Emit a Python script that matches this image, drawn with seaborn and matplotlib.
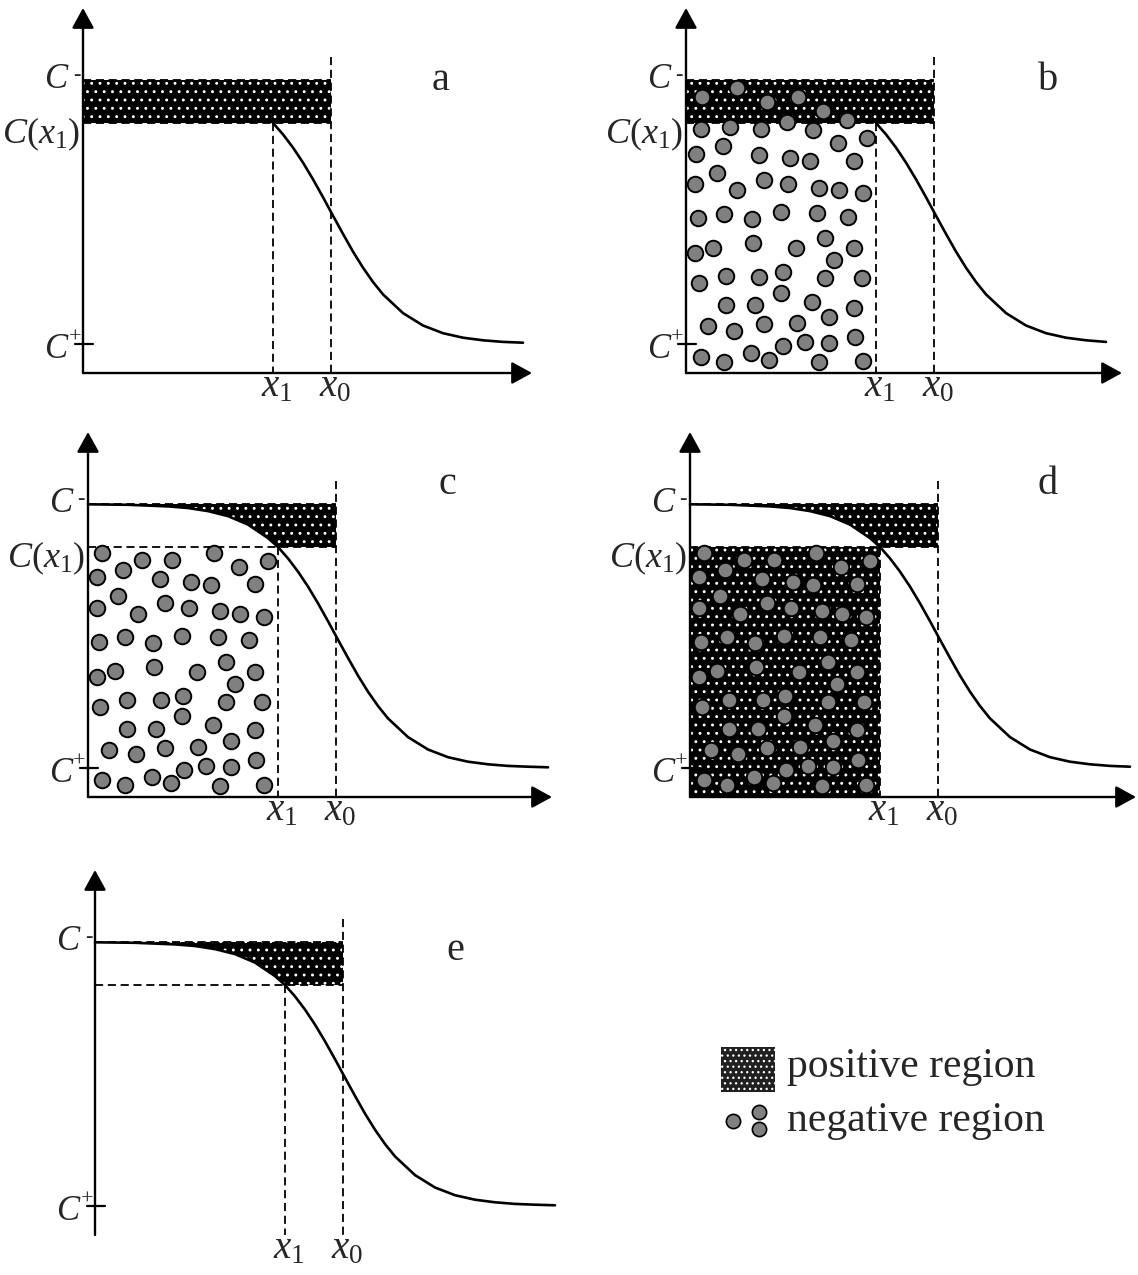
import numpy as np
import pandas as pd
import matplotlib
matplotlib.use("Agg")
import matplotlib.pyplot as plt
import seaborn as sns

sns.set_style("white")
plt.rcParams.update({
    "font.family": ["Liberation Serif", "DejaVu Serif"],
    "mathtext.fontset": "custom",
    "mathtext.rm": "Liberation Serif",
    "mathtext.it": "Liberation Serif:italic",
    "mathtext.bf": "Liberation Serif:bold",
    "hatch.linewidth": 0.9,
})

# ---- schematic levels (arbitrary units) ----
C_PLUS = 0
C_MINUS = 264
C_X1 = 221
X1 = 190
X0 = 248
AXIS_LEVEL = -29
AXIS_TOP = 336
X0_LINE_TOP = 287

# concentration profile C(x)
curve_x = [0, 40, 80, 100, 120, 140, 160, 180, 190, 200, 210, 220, 230, 240,
           250, 260, 270, 280, 290, 300, 320, 340, 360, 380, 400, 420, 440, 460]
curve_y = [263.7, 263.2, 261.6, 260.0, 256.9, 251.9, 243.4, 229.9, 221.0, 209.6,
           196.4, 181.4, 164.7, 146.8, 128.3, 110.1, 92.4, 76.3, 62.0, 49.6,
           30.9, 18.5, 10.8, 6.3, 3.7, 2.1, 1.3, 0.7]

# negative-region particles, panel b
circles_b_x = [16, 51, 81, 112, 137, 101, 161, 15, 44, 75, 127, 181, 152, 37, 10, 73,
               104, 124, 168, 31, 9, 78, 102, 51, 133, 153, 177, 12, 38, 66, 95, 131,
               162, 139, 27, 67, 9, 110, 168, 148, 13, 40, 73, 97, 139, 176, 95, 40,
               69, 126, 168, 22, 48, 78, 111, 143, 97, 119, 143, 169, 15, 38, 65, 83,
               133, 177]
circles_b_y = [247, 256, 242, 247, 233, 222, 224, 215, 217, 215, 214, 206, 201, 198,
               190, 189, 186, 183, 183, 171, 160, 164, 160, 154, 156, 154, 151, 126,
               130, 125, 132, 131, 127, 106, 96, 101, 91, 96, 96, 84, 61, 68, 67, 72,
               66, 66, 51, 39, 39, 42, 36, 18, 13, 20, 21, 27, -2, 2, 1, 7, -13, -18,
               -9, -16, -18, -17]

# negative-region particles, panels c and d
circles_cd_x = [14, 54, 84, 126, 151, 180, 9, 35, 72, 103, 123, 167, 30, 9, 77, 101,
                50, 132, 152, 176, 11, 37, 65, 94, 130, 161, 138, 27, 66, 9, 109, 167,
                147, 12, 39, 73, 95, 138, 174, 94, 39, 68, 125, 167, 21, 48, 77, 110,
                143, 168, 96, 118, 143, 14, 37, 64, 83, 132, 176]
circles_cd_y = [215, 208, 208, 215, 201, 207, 191, 198, 189, 186, 183, 184, 172, 160,
                165, 160, 154, 157, 154, 151, 126, 131, 125, 132, 131, 128, 106, 97,
                101, 91, 96, 96, 84, 61, 68, 68, 72, 66, 66, 52, 39, 39, 43, 38, 18,
                14, 20, 21, 27, 8, -2, 2, 1, -12, -17, -9, -15, -18, -17]

curve_df = pd.DataFrame({"x": curve_x, "y": curve_y})
circles_b = pd.DataFrame({"x": circles_b_x, "y": circles_b_y})
circles_cd = pd.DataFrame({"x": circles_cd_x, "y": circles_cd_y})

W, H = 1138, 1275
fig = plt.figure(figsize=(W / 100, H / 100), dpi=100)
fig.patch.set_facecolor("white")

DASH = dict(color="black", lw=1.3, ls=(0, (4.5, 2.6)), zorder=3)
FS_C = 25
FS_X = 28


def panel(box, origin_x, base_y):
    L, T, R, B = box
    ax = fig.add_axes([L / W, 1 - B / H, (R - L) / W, (B - T) / H])
    ax.set_xlim(L - origin_x, R - origin_x)
    ax.set_ylim(base_y - B, base_y - T)
    ax.set_axis_off()
    return ax


def stipple(ax, x, lo, hi, zorder=2):
    ax.fill_between(x, lo, hi, facecolor="black", edgecolor="none", lw=0, zorder=zorder)
    ax.fill_between(x, lo, hi, facecolor="none", edgecolor="white", hatch="..",
                    lw=0, zorder=zorder + 0.1)


def axes_arrows(ax, x_tip):
    kw = dict(arrowstyle="-|>,head_length=0.62,head_width=0.34", color="black",
              lw=1.7, shrinkA=0, shrinkB=0, mutation_scale=20)
    ax.annotate("", xy=(0, AXIS_TOP), xytext=(0, AXIS_LEVEL), arrowprops=kw, zorder=6)
    ax.annotate("", xy=(x_tip, AXIS_LEVEL), xytext=(0, AXIS_LEVEL), arrowprops=kw, zorder=6)


def draw_panel(box, origin_x, base_y, x_tip, curve_end, letter, letter_xy,
               full_curve, circles=None, big_rect=False, cx1_label=True):
    ax = panel(box, origin_x, base_y)

    # positive region band between C- and the profile / C(x1)
    if full_curve:
        sel = curve_df[curve_df.x <= X1]
        bx = list(sel.x) + [X0]
        blo = list(sel.y) + [C_X1]
    else:
        bx = [0, X0]
        blo = [C_X1, C_X1]
    stipple(ax, bx, blo, C_MINUS)

    if big_rect:
        stipple(ax, [0, X1], AXIS_LEVEL, C_X1)

    # dashed guides
    ax.plot([0, X0], [C_X1, C_X1], **DASH)
    ax.plot([0, X0], [C_MINUS, C_MINUS], **DASH)
    ax.plot([X1, X1], [C_X1, AXIS_LEVEL], **DASH)
    ax.plot([X0, X0], [X0_LINE_TOP, AXIS_LEVEL], **DASH)

    # concentration profile
    c = curve_df[curve_df.x <= curve_end]
    if not full_curve:
        c = c[c.x >= X1]
    sns.lineplot(data=c, x="x", y="y", ax=ax, color="black", lw=1.9,
                 estimator=None, sort=False, zorder=4)

    if circles is not None:
        sns.scatterplot(data=circles, x="x", y="y", ax=ax, s=125, color="#808080",
                        edgecolor="black", linewidth=1.4, zorder=5, legend=False)

    axes_arrows(ax, x_tip)

    # C+ tick
    ax.plot([-8, 10], [C_PLUS, C_PLUS], color="black", lw=1.6, zorder=6)

    # y labels
    ax.text(-16, C_MINUS - 8, "C", style="italic", fontsize=FS_C, ha="right",
            va="baseline", zorder=7)
    ax.text(-3, C_MINUS + 4, "-", fontsize=16, ha="right", va="center", zorder=7)
    ax.text(-16, C_PLUS - 14, "C", style="italic", fontsize=FS_C, ha="right",
            va="baseline", zorder=7)
    ax.text(-2, C_PLUS + 6, "+", fontsize=16, ha="right", va="center", zorder=7)
    if cx1_label:
        ax.text(-3, C_X1 - 20, r"$C(x_1)$", fontsize=FS_C + 1, ha="right",
                va="baseline", zorder=7)

    # x labels
    ax.text(X1 + 4, -52, r"$x_1$", fontsize=FS_X, ha="center", va="baseline")
    ax.text(X0 + 4, -52, r"$x_0$", fontsize=FS_X, ha="center", va="baseline")

    ax.text(letter_xy[0], letter_xy[1], letter, fontsize=29, ha="center", va="center")
    return ax


draw_panel((0, 0, 569, 425), 83, 344, 449, 440, "a", (358, 264), full_curve=False)
draw_panel((569, 0, 1138, 425), 686, 344, 436, 420, "b", (362, 264), full_curve=False,
           circles=circles_b)
draw_panel((0, 425, 569, 850), 88, 768, 464, 460, "c", (359, 284), full_curve=True,
           circles=circles_cd)
draw_panel((569, 425, 1138, 850), 690, 768, 446, 440, "d", (358, 284), full_curve=True,
           circles=circles_cd, big_rect=True)
draw_panel((0, 850, 569, 1275), 95, 1206, 487, 460, "e", (360, 255), full_curve=True,
           cx1_label=False)

# legend
lg = fig.add_axes([569 / W, 0, (W - 569) / W, 425 / H])
lg.set_xlim(569, W)
lg.set_ylim(1275, 850)
lg.set_axis_off()
lg.fill_between([721, 775], 1047, 1092, facecolor="#202020", edgecolor="none", lw=0)
lg.fill_between([721, 775], 1047, 1092, facecolor="none", edgecolor="white",
                hatch="...", lw=0)
legend_pts = pd.DataFrame({"x": [733, 759, 759], "y": [1121, 1112, 1129]})
sns.scatterplot(data=legend_pts, x="x", y="y", ax=lg, s=105, color="#808080",
                edgecolor="black", linewidth=1.2, legend=False, zorder=5)
lg.text(787, 1077, "positive region", fontsize=30, ha="left", va="baseline")
lg.text(787, 1131, "negative region", fontsize=30, ha="left", va="baseline")

fig.savefig("out.png", dpi=100, facecolor="white")
